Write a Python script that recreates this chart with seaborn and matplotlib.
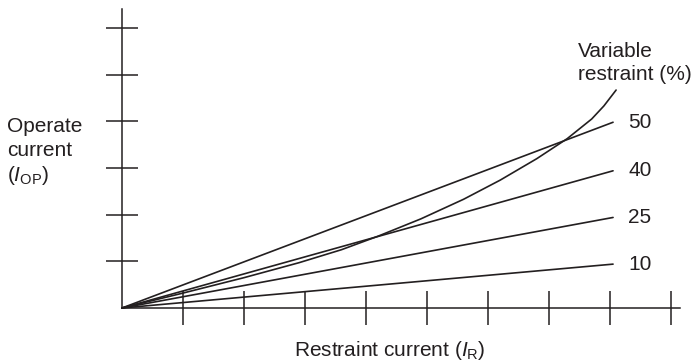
import pandas as pd
import matplotlib
matplotlib.use("Agg")
import matplotlib.pyplot as plt
import seaborn as sns

# Fixed-percentage restraint lines (start at origin, end at x_end)
restraint_end = [0.0, 8.05]
pct_labels = ["50", "40", "25", "10"]
pct_ends = [3.98, 2.94, 1.94, 0.94]

# Variable restraint curve
variable_x = [0.0, 1.0, 2.0, 2.9, 3.6, 4.2, 4.9, 5.6, 6.2, 6.8, 7.3, 7.7, 7.9, 8.1]
variable_y = [0.0, 0.32, 0.65, 0.97, 1.25, 1.54, 1.91, 2.33, 2.74, 3.2, 3.63, 4.05, 4.33, 4.67]

x_ticks = [1, 2, 3, 4, 5, 6, 7, 8, 9]
y_ticks = [1, 2, 3, 4, 5, 6]

sns.set_style("ticks")
plt.rcParams["font.family"] = ["Liberation Sans", "DejaVu Sans"]
plt.rcParams["mathtext.fontset"] = "custom"
plt.rcParams["mathtext.rm"] = "Liberation Sans"
plt.rcParams["mathtext.it"] = "Liberation Sans:italic"

W, H = 694, 364
fig = plt.figure(figsize=(W / 100, H / 100), dpi=100)
ax = fig.add_axes([122 / W, (H - 308) / H, (680 - 122) / W, (308 - 9) / H])

ink = "#231f20"

# straight lines
for lab, end in zip(pct_labels, pct_ends):
    df = pd.DataFrame({"x": restraint_end, "y": [0.0, end]})
    sns.lineplot(data=df, x="x", y="y", ax=ax, color=ink, lw=1.2, clip_on=False)
    ax.text(8.3, end, lab, fontsize=15, color=ink, va="center", ha="left")

# variable curve
curve = pd.DataFrame({"x": variable_x, "y": variable_y})
sns.lineplot(data=curve, x="x", y="y", ax=ax, color=ink, lw=1.2, clip_on=False)

ax.set_xlim(0, (680 - 122) / 61.0)
ax.set_ylim(0, (308 - 9) / 46.67)
ax.set_xticks(x_ticks)
ax.set_yticks(y_ticks)
ax.tick_params(axis="both", direction="inout", width=1.1, color=ink,
               labelbottom=False, labelleft=False)
ax.tick_params(axis="x", length=25)
ax.tick_params(axis="y", length=23.5)
sns.despine(ax=ax)
for s in ["left", "bottom"]:
    ax.spines[s].set_linewidth(1.1)
    ax.spines[s].set_color(ink)
ax.set_xlabel("")
ax.set_ylabel("")
ax.patch.set_alpha(0)

# axis titles, placed in pixel coordinates
def ftext(px, py, s, **kw):
    fig.text(px / W, 1 - py / H, s, fontsize=15, color=ink, va="baseline", **kw)

ftext(7, 132, "Operate")
ftext(7, 156.5, "current")
ftext(7, 181, r"($\mathit{I}_{\mathrm{OP}}$)")
ftext(390, 356, r"Restraint current ($\mathit{I}_{\mathrm{R}}$)", ha="center")
ftext(578, 57, "Variable")
ftext(578, 80, "restraint (%)")

fig.savefig("out.png", dpi=100)
